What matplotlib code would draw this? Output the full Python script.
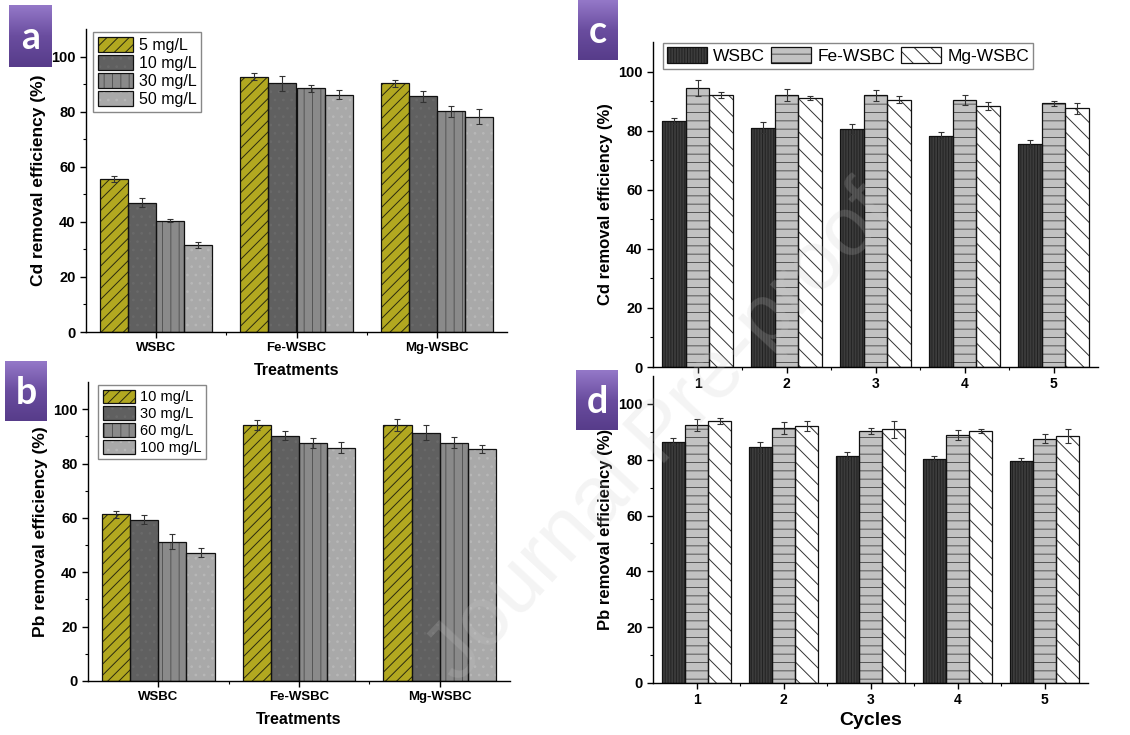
import numpy as np
import matplotlib
matplotlib.use("Agg")
import matplotlib.pyplot as plt
from matplotlib.colors import LinearSegmentedColormap
from matplotlib.legend_handler import HandlerTuple

plt.rcParams['font.family'] = ['Liberation Sans', 'DejaVu Sans']
plt.rcParams['hatch.linewidth'] = 0.7

# ---------------- data ----------------
treatments = ['WSBC', 'Fe-WSBC', 'Mg-WSBC']
cd_conc = ['5 mg/L', '10 mg/L', '30 mg/L', '50 mg/L']
cd_eff = [[55.5, 92.7, 90.3],
          [47.0, 90.3, 85.5],
          [40.4, 88.4, 80.1],
          [31.5, 86.1, 78.2]]
cd_err = [[1.0, 1.3, 1.2],
          [1.8, 2.7, 1.9],
          [0.6, 1.1, 1.9],
          [1.1, 1.6, 2.8]]

pb_conc = ['10 mg/L', '30 mg/L', '60 mg/L', '100 mg/L']
pb_eff = [[61.3, 94.2, 94.2],
          [59.4, 90.3, 91.3],
          [51.3, 87.5, 87.7],
          [47.2, 85.9, 85.4]]
pb_err = [[1.2, 1.7, 2.3],
          [1.7, 1.5, 2.7],
          [2.6, 1.9, 2.0],
          [1.7, 2.0, 1.4]]

cycles = [1, 2, 3, 4, 5]
adsorbents = ['WSBC', 'Fe-WSBC', 'Mg-WSBC']
cd_cycle = [[83.3, 81.0, 80.6, 78.3, 75.5],
            [94.4, 92.1, 91.9, 90.4, 89.3],
            [92.2, 91.0, 90.4, 88.4, 87.6]]
cd_cycle_err = [[1.0, 1.9, 1.6, 1.1, 1.4],
                [2.7, 2.0, 1.7, 1.6, 0.9],
                [1.0, 0.7, 1.2, 1.4, 1.9]]
pb_cycle = [[86.5, 84.5, 81.4, 80.3, 79.5],
            [92.5, 91.4, 90.2, 88.8, 87.5],
            [93.9, 92.2, 90.9, 90.2, 88.4]]
pb_cycle_err = [[1.2, 2.0, 1.4, 0.9, 1.0],
                [2.2, 2.1, 1.1, 1.8, 1.6],
                [1.2, 1.8, 3.0, 0.8, 2.5]]

# ---------------- styles ----------------
conc_faces = ['#b2a820', '#606060', '#8a8a8a', '#a9a9a9']
conc_hatch = ['///', '..', '||', '..']
conc_hcol = ['#2a2a10', '#6a6a6a', '#555555', '#b8b8b8']

ads_faces = ['#3c3c3c', '#c2c2c2', '#ffffff']
ads_hatch = ['||||||', '--', '\\\\']
ads_hcol = ['#222222', '#555555', '#333333']

W, H = 1130, 735
fig = plt.figure(figsize=(W / 100, H / 100), dpi=100)


def px_axes(left, right, top, bottom):
    a = fig.add_axes([left / W, 1 - bottom / H, (right - left) / W, (bottom - top) / H])
    a.patch.set_alpha(0)
    return a


def draw_bar(ax, x, h, w, face, hatch, hcol, err):
    b1 = ax.bar(x, h, w, color=face, edgecolor=hcol, hatch=hatch, linewidth=0, zorder=2)
    b2 = ax.bar(x, h, w, fill=False, edgecolor='#111111', linewidth=0.9, zorder=2.5)
    ax.errorbar(x, h, yerr=err, fmt='none', ecolor='#333333', elinewidth=0.8,
                capsize=2.5, capthick=0.8, zorder=3)
    return (b1, b2)


def style_axes(ax, xlim, xticks, xlabels, xminor, xfs=9.5):
    for s in ['top', 'right']:
        ax.spines[s].set_visible(False)
    for s in ['left', 'bottom']:
        ax.spines[s].set_linewidth(1.0)
    ax.set_xlim(*xlim)
    ax.set_ylim(0, 110)
    ax.set_yticks([0, 20, 40, 60, 80, 100])
    ax.set_yticks([10, 30, 50, 70, 90], minor=True)
    ax.set_xticks(xticks)
    ax.set_xticklabels(xlabels, fontweight='bold', fontsize=xfs)
    ax.set_xticks(xminor, minor=True)
    for lab in ax.get_yticklabels():
        lab.set_fontweight('bold')
        lab.set_fontsize(10.5)
    ax.tick_params(which='major', direction='out', length=4, width=1)
    ax.tick_params(which='minor', direction='out', length=2.5, width=0.8)


def conc_panel(ax, eff, err, conc, ylabel, leg_anchor, leg_fs):
    x = np.arange(len(treatments))
    w = 0.2
    handles = []
    for i in range(len(conc)):
        hd = draw_bar(ax, x + (i - 1.5) * w, eff[i], w, conc_faces[i], conc_hatch[i],
                      conc_hcol[i], err[i])
        handles.append(hd)
    style_axes(ax, (-0.5, 2.5), x, treatments, [0.5, 1.5])
    ax.set_ylabel(ylabel, fontsize=12.5, fontweight='bold', labelpad=4)
    ax.set_xlabel('Treatments', fontsize=11.5, fontweight='bold', labelpad=6)
    ax.legend(handles, conc, handler_map={tuple: HandlerTuple(ndivide=1)},
              loc='upper left', bbox_to_anchor=leg_anchor, borderaxespad=0,
              fontsize=leg_fs, handlelength=2.2, handleheight=1.05, handletextpad=0.35,
              labelspacing=0.14, borderpad=0.3, fancybox=False, edgecolor='#888888',
              framealpha=1)


def cycle_panel(ax, eff, err, ylabel, xlabel=None, legend=False):
    x = np.array(cycles)
    w = 0.8 / 3
    handles = []
    for i in range(len(adsorbents)):
        hd = draw_bar(ax, x + (i - 1) * w, eff[i], w, ads_faces[i], ads_hatch[i],
                      ads_hcol[i], err[i])
        handles.append(hd)
    style_axes(ax, (0.5, 5.5), x, [str(c) for c in cycles], [1.5, 2.5, 3.5, 4.5], xfs=10)
    ax.set_ylabel(ylabel, fontsize=12, fontweight='bold', labelpad=4)
    if xlabel:
        ax.set_xlabel(xlabel, fontsize=14, fontweight='bold', labelpad=3)
    if legend:
        ax.legend(handles, adsorbents, handler_map={tuple: HandlerTuple(ndivide=1)},
                  loc='upper left', bbox_to_anchor=(0.0225, 0.997), borderaxespad=0,
                  ncol=3, fontsize=12.5, handlelength=2.3, handleheight=1.05,
                  handletextpad=0.35, columnspacing=0.35, borderpad=0.25,
                  fancybox=False, edgecolor='#888888', framealpha=1)


ax_a = px_axes(86, 507, 29, 332)
conc_panel(ax_a, cd_eff, cd_err, cd_conc, 'Cd removal efficiency (%)', (0.017, 0.99), 11.5)

ax_b = px_axes(88, 510, 382, 681)
conc_panel(ax_b, pb_eff, pb_err, pb_conc, 'Pb removal efficiency (%)', (0.024, 0.989), 10.5)

ax_c = px_axes(653, 1098, 42, 367)
cycle_panel(ax_c, cd_cycle, cd_cycle_err, 'Cd removal efficiency (%)', legend=True)

ax_d = px_axes(653, 1088, 376, 683)
cycle_panel(ax_d, pb_cycle, pb_cycle_err, 'Pb removal efficiency (%)', xlabel='Cycles')

# panel badges
cmap = LinearSegmentedColormap.from_list('badge', ['#9478c8', '#6a4d9f', '#573c8a'])


def badge(letter, x0, y0, w, h):
    bx = fig.add_axes([x0 / W, 1 - (y0 + h) / H, w / W, h / H])
    grad = np.linspace(0, 1, 64).reshape(-1, 1)
    bx.imshow(grad, cmap=cmap, aspect='auto', extent=[0, 1, 0, 1], origin='upper')
    bx.text(0.5, 0.47, letter, color='white', fontsize=27, fontweight='bold',
            family=['Lato', 'DejaVu Sans'], ha='center', va='center')
    bx.set_xlim(0, 1)
    bx.set_ylim(0, 1)
    bx.axis('off')


badge('a', 9, 5, 43, 62)
badge('b', 5, 361, 42, 60)
badge('c', 578, 0, 40, 60)
badge('d', 576, 370, 42, 60)

# watermark
fig.text(0.585, 0.41, 'Journal Pre-proof', rotation=47, fontsize=60, color='#c8c8c8',
         alpha=0.2, ha='center', va='center', zorder=10)

fig.savefig('out.png', dpi=100)
